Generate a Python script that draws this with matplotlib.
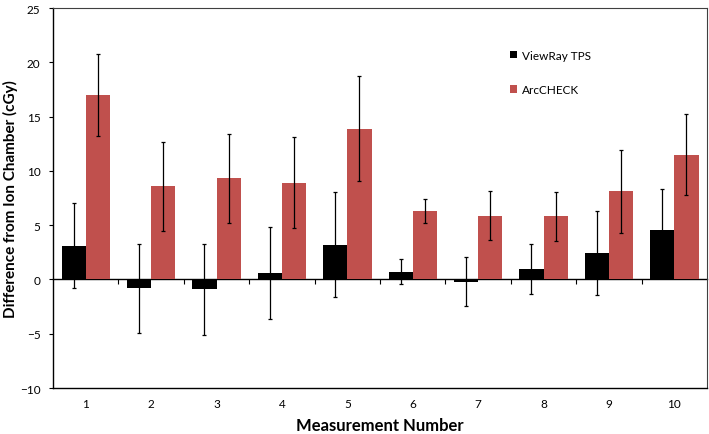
import numpy as np
import matplotlib
matplotlib.use('Agg')
import matplotlib.pyplot as plt

plt.rcParams['font.family'] = ['Lato', 'DejaVu Sans']

measurements = [1, 2, 3, 4, 5, 6, 7, 8, 9, 10]
viewray = [3.1, -0.8, -0.9, 0.6, 3.2, 0.7, -0.2, 1.0, 2.45, 4.55]
viewray_err = [3.9, 4.1, 4.2, 4.2, 4.85, 1.15, 2.25, 2.3, 3.85, 3.8]
arccheck = [17.0, 8.6, 9.3, 8.9, 13.9, 6.3, 5.85, 5.8, 8.1, 11.5]
arccheck_err = [3.8, 4.1, 4.1, 4.2, 4.8, 1.1, 2.25, 2.25, 3.8, 3.75]

red = '#C0504D'
width = 0.37

fig = plt.figure(figsize=(7.09, 4.35), dpi=100)
ax = fig.add_axes([0.0748, 0.1057, 0.9225, 0.8736])

x = np.array(measurements, dtype=float)
err_style = dict(ecolor='black', elinewidth=0.9, capsize=1.6, capthick=0.9)
ax.bar(x - width / 2, viewray, width, color='black', yerr=viewray_err,
       error_kw=err_style, label='ViewRay TPS', zorder=2)
ax.bar(x + width / 2, arccheck, width, color=red, yerr=arccheck_err,
       error_kw=err_style, label='ArcCHECK', zorder=2)

ymin, ymax = -10, 25
ax.set_ylim(ymin, ymax)
ax.set_xlim(0.5, 10.5)
ax.set_yticks(range(-10, 30, 5))
ax.set_xticks(measurements)
ax.tick_params(axis='x', length=0, pad=7, labelsize=8.5)
ax.tick_params(axis='y', length=3, width=0.8, pad=6, labelsize=8.5)

for side in ['top', 'right']:
    ax.spines[side].set_color('#404040')
    ax.spines[side].set_linewidth(0.8)
ax.spines['left'].set_linewidth(1.0)
ax.spines['bottom'].set_linewidth(1.0)

# zero line with category-boundary ticks (Excel style)
zero_loc = (0 - ymin) / (ymax - ymin)
sec = ax.secondary_xaxis(zero_loc)
sec.set_xticks(np.arange(1.5, 10.5, 1.0))
sec.set_xticklabels([])
sec.tick_params(axis='x', direction='out', length=3.5, width=0.8)
sec.spines['bottom'].set_linewidth(1.0)

ax.set_xlabel('Measurement Number', fontsize=12, fontweight='bold', labelpad=6)
ax.set_ylabel('Difference from Ion Chamber (cGy)', fontsize=11, fontweight='bold')
ax.yaxis.set_label_coords(-0.053, 0.5)

ax.legend(loc='upper left', bbox_to_anchor=(0.683, 0.918), frameon=False,
          fontsize=8.5, handlelength=0.6, handleheight=0.6, handletextpad=0.4,
          labelspacing=2.0)

fig.savefig('out.png', dpi=100)
